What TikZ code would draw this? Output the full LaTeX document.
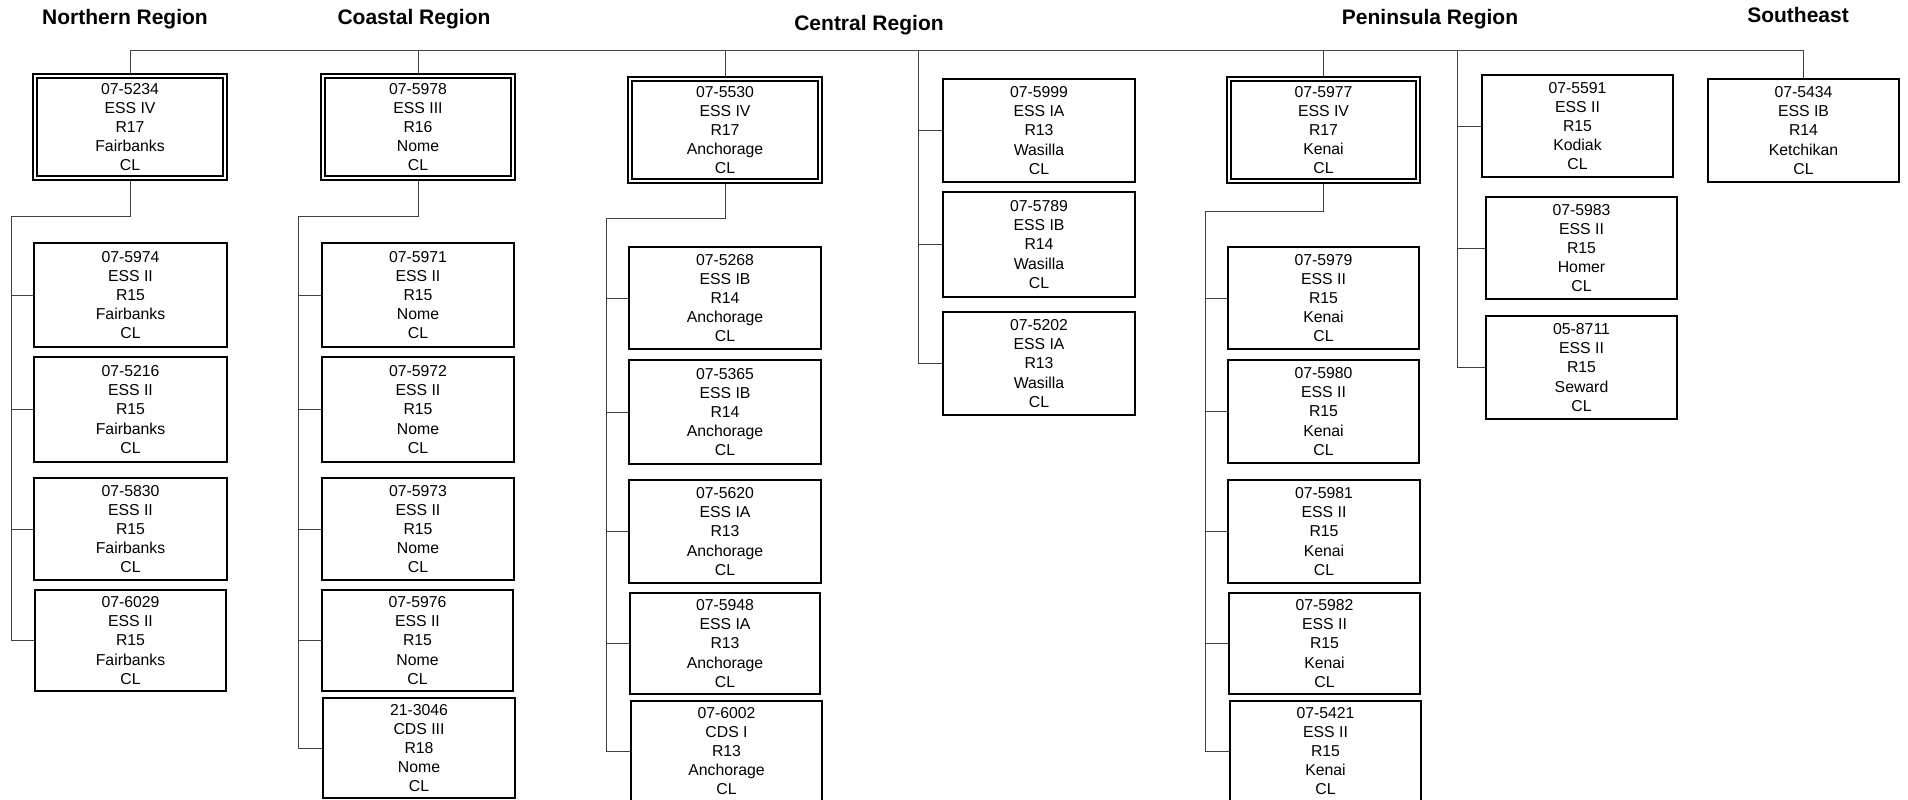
\documentclass[tikz,border=0pt]{standalone}
\usepackage{fontspec}
\setmainfont{Liberation Sans}
\newcommand\boxfont{\fontsize{7.9pt}{9.6pt}\selectfont}
\newcommand\titlefont{\fontsize{10.5pt}{12pt}\selectfont\bfseries}
\begin{document}
\begin{tikzpicture}[x=0.5pt,y=-0.5pt,
  conn/.style={draw=black!75, line width=0.5pt},
  leaf/.style 2 args={draw=black, line width=1pt, minimum width=#1*0.5pt, minimum height=#2*0.5pt, inner sep=0pt, align=center, font=\boxfont},
  head/.style 2 args={leaf={#1}{#2}, line width=0.75pt},
  innerbox/.style={draw=black, line width=1pt},
  title/.style={font=\titlefont, inner sep=0pt}]
\useasboundingbox (0,0) rectangle (1908,799);

% titles
\node[title] (tN) at (125,19) {Northern Region};
\node[title] (tC) at (414,19) {Coastal Region};
\node[title] (tM) at (869,25) {Central Region};
\node[title] (tP) at (1430,19) {Peninsula Region};
\node[title] (tS) at (1798,15) {Southeast};

% Northern
\node[head={194}{106}] (N0) at (130,127) {07-5234\\ESS IV\\R17\\Fairbanks\\CL};
\node[leaf={193}{104}] (N1) at (130.5,295) {07-5974\\ESS II\\R15\\Fairbanks\\CL};
\node[leaf={193}{105}] (N2) at (130.5,409.5) {07-5216\\ESS II\\R15\\Fairbanks\\CL};
\node[leaf={193}{102}] (N3) at (130.5,529) {07-5830\\ESS II\\R15\\Fairbanks\\CL};
\node[leaf={191}{101}] (N4) at (130.5,640.5) {07-6029\\ESS II\\R15\\Fairbanks\\CL};

% Coastal
\node[head={194}{106}] (C0) at (418,127) {07-5978\\ESS III\\R16\\Nome\\CL};
\node[leaf={192}{104}] (C1) at (418,295) {07-5971\\ESS II\\R15\\Nome\\CL};
\node[leaf={192}{105}] (C2) at (418,409.5) {07-5972\\ESS II\\R15\\Nome\\CL};
\node[leaf={192}{102}] (C3) at (418,529) {07-5973\\ESS II\\R15\\Nome\\CL};
\node[leaf={191}{101}] (C4) at (417.5,640.5) {07-5976\\ESS II\\R15\\Nome\\CL};
\node[leaf={192}{100}] (C5) at (419,748) {21-3046\\CDS III\\R18\\Nome\\CL};

% Central
\node[head={194}{106}] (M0) at (725,130) {07-5530\\ESS IV\\R17\\Anchorage\\CL};
\node[leaf={192}{102}] (M1) at (725,298) {07-5268\\ESS IB\\R14\\Anchorage\\CL};
\node[leaf={192}{104}] (M2) at (725,412) {07-5365\\ESS IB\\R14\\Anchorage\\CL};
\node[leaf={192}{103}] (M3) at (725,531.5) {07-5620\\ESS IA\\R13\\Anchorage\\CL};
\node[leaf={190}{101}] (M4) at (725,643.5) {07-5948\\ESS IA\\R13\\Anchorage\\CL};
\node[leaf={191}{100}] (M5) at (726.5,751) {07-6002\\CDS I\\R13\\Anchorage\\CL};

\node[leaf={192}{103}] (W1) at (1039,130.5) {07-5999\\ESS IA\\R13\\Wasilla\\CL};
\node[leaf={192}{105}] (W2) at (1039,244.5) {07-5789\\ESS IB\\R14\\Wasilla\\CL};
\node[leaf={192}{103}] (W3) at (1039,363.5) {07-5202\\ESS IA\\R13\\Wasilla\\CL};

% Peninsula
\node[head={193}{106}] (P0) at (1323.5,130) {07-5977\\ESS IV\\R17\\Kenai\\CL};
\node[leaf={191}{102}] (P1) at (1323.5,298) {07-5979\\ESS II\\R15\\Kenai\\CL};
\node[leaf={191}{103}] (P2) at (1323.5,411.5) {07-5980\\ESS II\\R15\\Kenai\\CL};
\node[leaf={192}{103}] (P3) at (1324,531.5) {07-5981\\ESS II\\R15\\Kenai\\CL};
\node[leaf={191}{101}] (P4) at (1324.5,643.5) {07-5982\\ESS II\\R15\\Kenai\\CL};
\node[leaf={191}{100}] (P5) at (1325.5,751) {07-5421\\ESS II\\R15\\Kenai\\CL};

\node[leaf={191}{102}] (K1) at (1577.5,126) {07-5591\\ESS II\\R15\\Kodiak\\CL};
\node[leaf={191}{102}] (K2) at (1581.5,248) {07-5983\\ESS II\\R15\\Homer\\CL};
\node[leaf={191}{103}] (K3) at (1581.5,367.5) {05-8711\\ESS II\\R15\\Seward\\CL};

% Southeast
\node[leaf={191}{103}] (S1) at (1803.5,130.5) {07-5434\\ESS IB\\R14\\Ketchikan\\CL};

% inner frames of head boxes
\foreach \h in {N0,C0,M0,P0}{
  \draw[innerbox] ([xshift=2.5pt,yshift=-2.5pt]\h.north west) rectangle ([xshift=-2.5pt,yshift=2.5pt]\h.south east);
}

% top bar
\coordinate (TL) at (130,50);
\draw[conn] (N0.north) -- (N0.north |- TL) -| (S1.north);
\draw[conn] (C0.north) -- (C0.north |- TL);
\draw[conn] (M0.north) -- (M0.north |- TL);
\draw[conn] (P0.north) -- (P0.north |- TL);
\coordinate (Wx) at (918,50);
\coordinate (Kx) at (1457,50);

% Northern tree
\coordinate (Nj) at (130,216);
\coordinate (Nl) at (11,216);
\draw[conn] (N0.south) -- (Nj) -- (Nl) |- (N4.west);
\foreach \n in {N1,N2,N3}{ \draw[conn] (Nl |- \n.west) -- (\n.west); }

% Coastal tree
\coordinate (Cj) at (418,216);
\coordinate (Cl) at (298.5,216);
\draw[conn] (C0.south) -- (Cj) -- (Cl) |- (C5.west);
\foreach \n in {C1,C2,C3,C4}{ \draw[conn] (Cl |- \n.west) -- (\n.west); }

% Central tree
\coordinate (Mj) at (725,218);
\coordinate (Ml) at (606,218);
\draw[conn] (M0.south) -- (Mj) -- (Ml) |- (M5.west);
\foreach \n in {M1,M2,M3,M4}{ \draw[conn] (Ml |- \n.west) -- (\n.west); }

% Wasilla column
\draw[conn] (Wx) |- (W3.west);
\foreach \n in {W1,W2}{ \draw[conn] (Wx |- \n.west) -- (\n.west); }

% Peninsula tree
\coordinate (Pj) at (1323.5,211);
\coordinate (Pl) at (1205,211);
\draw[conn] (P0.south) -- (Pj) -- (Pl) |- (P5.west);
\foreach \n in {P1,P2,P3,P4}{ \draw[conn] (Pl |- \n.west) -- (\n.west); }

% Kodiak column
\draw[conn] (Kx) |- (K3.west);
\foreach \n in {K1,K2}{ \draw[conn] (Kx |- \n.west) -- (\n.west); }
\end{tikzpicture}
\end{document}
